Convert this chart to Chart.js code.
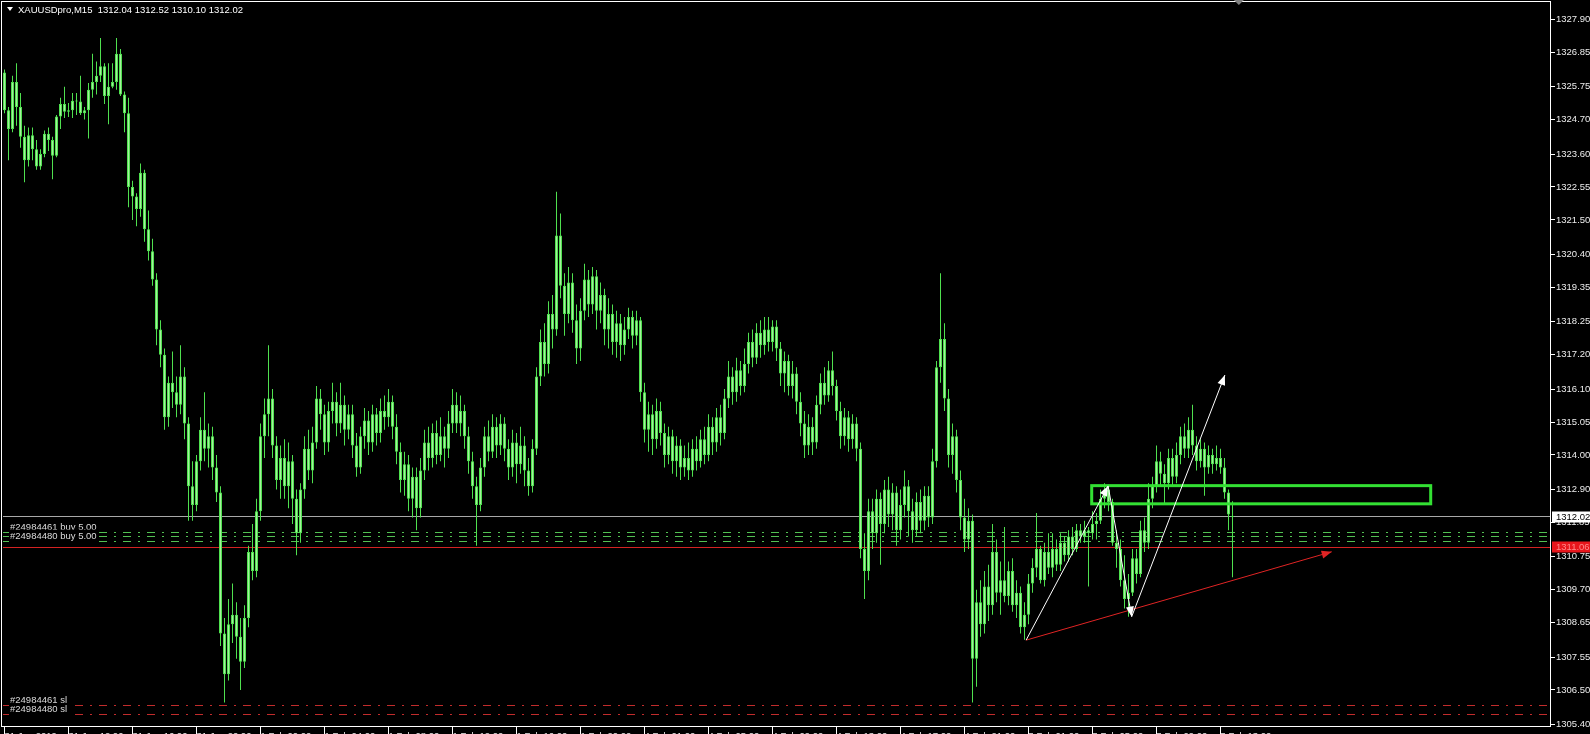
<!DOCTYPE html>
<html>
<head>
<meta charset="utf-8">
<script src="https://cdn.jsdelivr.net/npm/chart.js"></script>
<style>
html,body{margin:0;padding:0;background:#000;overflow:hidden}
canvas{display:block}
</style>
</head>
<body>
<canvas id="c" width="1590" height="734"></canvas>
<script>
// ---------- DATA ----------
const symbol = 'XAUUSDpro';
const timeframe = 'M15';

const open = [
1326.2,1325.0,1324.4,1325.9,1325.1,1324.15,1323.4,1324.2,1323.75,1323.2,
1323.6,1324.25,1324.05,1323.55,1324.8,1325.2,1324.95,1325.0,1325.3,1325.28,
1324.9,1325.0,1325.65,1325.9,1326.1,1326.4,1325.45,1325.75,1325.9,1326.8,
1325.5,1324.9,1322.55,1322.25,1321.85,1323.0,1321.2,1320.5,1319.6,1318.0,
1317.2,1315.2,1316.3,1316.0,1315.6,1316.5,1315.0,1313.0,1312.4,1313.8,
1314.8,1314.2,1314.6,1313.6,1312.8,1308.3,1307.0,1308.6,1308.9,1308.2,
1307.4,1308.8,1310.9,1310.3,1312.2,1314.6,1315.3,1315.8,1314.3,1313.2,
1313.9,1313.0,1313.8,1312.6,1311.5,1312.9,1314.2,1313.5,1314.4,1315.8,
1315.3,1314.4,1315.4,1315.7,1315.0,1315.6,1314.8,1315.3,1314.3,1313.6,
1314.6,1315.1,1314.4,1315.3,1314.7,1315.4,1315.2,1315.7,1314.9,1314.1,
1313.2,1313.7,1312.6,1313.3,1312.3,1313.5,1314.4,1313.9,1314.7,1314.0,
1314.6,1314.2,1315.0,1315.6,1315.0,1315.4,1314.6,1313.8,1313.0,1312.4,
1313.6,1314.6,1314.1,1314.9,1314.3,1315.0,1314.2,1313.6,1314.4,1313.7,
1314.3,1313.5,1313.0,1314.2,1316.5,1317.6,1316.9,1318.5,1318.0,1321.0,
1319.4,1318.5,1319.5,1318.3,1317.4,1318.6,1319.6,1318.8,1319.7,1318.6,
1319.1,1318.0,1318.5,1317.6,1318.2,1317.5,1318.0,1318.4,1317.8,1318.3,
1316.0,1314.8,1315.3,1314.5,1315.4,1314.7,1314.0,1314.6,1313.8,1314.3,
1313.6,1313.9,1313.5,1314.2,1313.8,1314.5,1314.0,1314.9,1314.4,1315.2,
1314.7,1315.8,1316.5,1316.0,1316.7,1316.2,1316.9,1317.6,1317.1,1317.9,
1317.5,1318.0,1317.6,1318.1,1317.4,1316.6,1317.0,1316.2,1316.6,1315.7,
1315.0,1314.3,1314.9,1314.4,1315.6,1316.3,1315.9,1316.7,1316.2,1315.4,
1314.6,1315.2,1314.5,1315.0,1314.2,1311.0,1310.3,1312.2,1311.5,1312.6,
1311.8,1312.9,1312.1,1312.8,1311.6,1312.4,1313.0,1312.2,1311.6,1312.5,
1311.9,1312.7,1312.0,1313.8,1316.8,1317.7,1315.8,1314.0,1314.6,1313.2,
1312.0,1311.3,1311.9,1307.5,1309.3,1308.6,1309.8,1309.2,1310.9,1309.6,
1310.0,1309.5,1310.3,1309.2,1309.6,1308.5,1308.9,1309.9,1310.4,1311.0,
1310.0,1310.9,1310.4,1311.0,1310.5,1311.2,1310.8,1311.4,1311.0,1311.6,
1311.4,1311.6,1311.5,1311.8,1311.9,1312.6,1312.9,1312.5,1311.2,1311.0,
1310.0,1309.4,1309.6,1310.7,1310.2,1311.6,1311.2,1312.6,1313.0,1313.8,
1313.4,1313.1,1313.9,1313.3,1314.0,1314.6,1314.2,1314.8,1314.3,1313.8,
1314.2,1313.6,1314.0,1313.7,1313.9,1313.6,1312.8,1312.04
];
const high = [
1326.3,1325.1,1326.1,1326.5,1325.55,1324.5,1324.45,1324.45,1324.05,1323.75,
1324.35,1324.45,1324.15,1324.85,1325.4,1325.75,1325.23,1325.55,1325.55,1326.1,
1325.1,1325.87,1326.8,1326.55,1327.3,1326.5,1326.5,1326.5,1327.3,1326.95,
1325.6,1325.4,1322.75,1322.35,1323.3,1323.1,1321.8,1320.9,1319.8,1318.3,
1317.4,1316.5,1317.3,1316.5,1317.5,1316.8,1315.2,1313.8,1314.0,1315.2,
1316.0,1315.0,1314.9,1314.0,1313.0,1308.8,1309.4,1309.9,1309.3,1308.8,
1309.2,1311.1,1311.8,1312.6,1315.0,1315.8,1317.5,1316.1,1314.6,1314.3,
1314.5,1314.4,1314.0,1312.9,1313.1,1314.6,1314.8,1314.9,1316.2,1316.1,
1315.6,1315.7,1316.3,1316.0,1316.3,1315.9,1315.6,1315.6,1314.7,1314.9,
1315.5,1315.4,1315.6,1315.5,1315.8,1315.9,1316.1,1315.9,1315.3,1314.4,
1314.1,1314.0,1313.6,1313.6,1313.9,1314.8,1314.9,1315.0,1315.1,1315.2,
1314.9,1315.4,1316.1,1316.0,1315.9,1315.6,1314.9,1314.1,1313.3,1313.9,
1314.9,1315.1,1315.3,1315.2,1315.3,1315.2,1314.5,1314.8,1314.7,1314.9,
1314.6,1313.9,1314.5,1316.8,1318.0,1318.2,1318.9,1319.1,1322.4,1321.7,
1319.8,1320.0,1319.8,1318.8,1319.0,1320.1,1319.9,1320.0,1319.9,1319.5,
1319.3,1319.0,1318.8,1318.6,1318.5,1318.4,1318.7,1318.6,1318.6,1318.4,
1316.3,1315.7,1315.6,1315.8,1315.7,1315.0,1314.9,1314.8,1314.6,1314.5,
1314.3,1314.4,1314.5,1314.6,1314.8,1314.9,1315.3,1315.2,1315.5,1315.6,
1316.1,1317.0,1316.8,1317.1,1317.0,1317.4,1317.9,1318.0,1318.2,1318.3,
1318.4,1318.4,1318.3,1318.3,1317.6,1317.3,1317.2,1317.0,1316.8,1316.0,
1315.4,1315.3,1315.2,1315.9,1316.6,1316.8,1317.0,1317.3,1316.4,1315.7,
1315.5,1315.4,1315.3,1315.2,1314.4,1311.5,1312.6,1312.6,1312.9,1312.8,
1313.2,1313.3,1313.1,1313.0,1312.9,1313.5,1313.2,1312.6,1312.8,1312.9,
1313.0,1313.0,1314.2,1317.0,1319.8,1318.2,1316.1,1315.0,1314.8,1313.5,
1312.6,1312.3,1312.1,1309.7,1310.0,1310.3,1310.5,1311.8,1311.3,1310.6,
1311.7,1310.6,1310.7,1310.0,1309.8,1309.3,1310.2,1310.7,1312.15,1311.1,
1311.2,1311.5,1311.5,1311.3,1311.5,1311.4,1311.6,1311.7,1311.8,1311.8,
1311.9,1311.7,1312.2,1312.15,1312.9,1313.1,1313.05,1312.6,1311.6,1311.3,
1310.8,1310.2,1311.0,1311.0,1311.9,1312.0,1313.1,1313.3,1314.3,1314.1,
1313.7,1314.2,1314.2,1314.4,1314.9,1315.0,1315.2,1315.6,1314.6,1314.5,
1314.4,1314.3,1314.2,1314.3,1314.2,1313.9,1312.9,1312.52
];
const low = [
1324.9,1323.4,1324.3,1324.5,1323.8,1322.7,1323.2,1323.4,1323.1,1323.1,
1323.5,1323.7,1322.8,1323.5,1324.4,1324.75,1324.78,1324.75,1324.85,1324.85,
1324.7,1324.1,1325.4,1325.5,1325.9,1325.2,1324.55,1325.7,1325.65,1325.45,
1324.3,1321.9,1321.5,1321.3,1321.6,1320.8,1320.2,1319.4,1317.5,1316.8,
1314.8,1314.9,1315.5,1315.2,1315.3,1314.5,1311.9,1311.9,1312.2,1313.5,
1313.8,1313.6,1313.2,1312.5,1307.9,1306.1,1306.8,1308.0,1307.5,1306.5,
1307.2,1308.5,1310.0,1310.1,1311.9,1313.9,1314.6,1313.9,1312.9,1312.6,
1312.6,1312.3,1311.8,1310.8,1311.2,1312.6,1313.2,1313.1,1314.2,1314.8,
1314.0,1314.1,1315.0,1314.6,1314.7,1314.3,1314.5,1313.9,1313.3,1313.4,
1314.2,1314.0,1314.1,1314.3,1314.4,1314.8,1314.9,1314.5,1313.7,1312.8,
1312.7,1312.2,1312.0,1311.6,1312.0,1313.2,1313.5,1313.6,1313.7,1313.8,
1313.6,1313.9,1314.7,1314.7,1314.6,1314.2,1313.4,1312.6,1311.1,1312.2,
1313.3,1313.8,1313.9,1313.9,1314.0,1313.8,1313.2,1313.3,1313.1,1313.4,
1313.0,1312.7,1312.8,1314.0,1316.2,1316.5,1316.6,1317.4,1317.8,1319.0,
1317.8,1318.2,1317.9,1316.9,1317.0,1318.3,1318.4,1318.5,1318.0,1318.2,
1317.5,1317.4,1317.2,1317.1,1317.0,1317.2,1317.7,1317.4,1317.5,1315.7,
1314.4,1314.1,1314.0,1314.2,1314.3,1313.6,1313.7,1313.4,1313.3,1313.2,
1313.3,1313.2,1313.3,1313.5,1313.6,1313.7,1313.8,1314.0,1314.1,1314.3,
1314.5,1315.5,1315.6,1315.7,1315.9,1316.0,1316.6,1316.8,1316.9,1317.1,
1317.2,1317.3,1317.3,1317.0,1316.2,1316.0,1315.9,1315.8,1315.3,1314.6,
1313.9,1314.0,1314.0,1314.2,1315.3,1315.6,1315.7,1315.9,1315.1,1314.2,
1314.3,1314.1,1314.2,1313.8,1310.7,1309.4,1310.0,1311.0,1311.2,1310.5,
1311.5,1311.7,1311.6,1311.1,1311.3,1312.0,1311.4,1311.2,1311.4,1311.5,
1311.6,1311.7,1311.8,1313.6,1316.3,1315.4,1313.6,1313.4,1312.8,1311.6,
1310.9,1311.0,1306.1,1306.6,1308.2,1308.3,1308.7,1308.9,1309.3,1308.9,
1309.3,1309.2,1309.0,1308.8,1308.3,1308.1,1308.6,1309.6,1310.1,1309.9,
1309.8,1310.2,1310.1,1310.3,1310.3,1310.6,1310.6,1310.8,1310.9,1311.2,
1311.2,1309.8,1311.3,1311.3,1311.8,1312.3,1312.2,1311.1,1310.4,1309.8,
1309.1,1308.84,1309.5,1309.9,1310.1,1310.9,1311.0,1312.3,1312.8,1313.0,
1312.4,1312.9,1313.0,1313.1,1313.7,1313.9,1313.9,1314.0,1313.5,1313.6,
1312.7,1313.4,1313.4,1313.5,1313.4,1312.6,1311.6,1310.10
];
const close = [
1325.0,1324.4,1325.9,1325.1,1324.15,1323.4,1324.2,1323.75,1323.2,1323.6,
1324.25,1324.05,1323.55,1324.8,1325.2,1324.95,1325.0,1325.3,1325.28,1324.9,
1325.0,1325.65,1325.9,1326.1,1326.4,1325.45,1325.75,1325.9,1326.8,1325.5,
1324.9,1322.55,1322.25,1321.85,1323.0,1321.2,1320.5,1319.6,1318.0,1317.2,
1315.2,1316.3,1316.0,1315.6,1316.5,1315.0,1313.0,1312.4,1313.8,1314.8,
1314.2,1314.6,1313.6,1312.8,1308.3,1307.0,1308.6,1308.9,1308.2,1307.4,
1308.8,1310.9,1310.3,1312.2,1314.6,1315.3,1315.8,1314.3,1313.2,1313.9,
1313.0,1313.8,1312.6,1311.5,1312.9,1314.2,1313.5,1314.4,1315.8,1315.3,
1314.4,1315.4,1315.7,1315.0,1315.6,1314.8,1315.3,1314.3,1313.6,1314.6,
1315.1,1314.4,1315.3,1314.7,1315.4,1315.2,1315.7,1314.9,1314.1,1313.2,
1313.7,1312.6,1313.3,1312.3,1313.5,1314.4,1313.9,1314.7,1314.0,1314.6,
1314.2,1315.0,1315.6,1315.0,1315.4,1314.6,1313.8,1313.0,1312.4,1313.6,
1314.6,1314.1,1314.9,1314.3,1315.0,1314.2,1313.6,1314.4,1313.7,1314.3,
1313.5,1313.0,1314.2,1316.5,1317.6,1316.9,1318.5,1318.0,1321.0,1319.4,
1318.5,1319.5,1318.3,1317.4,1318.6,1319.6,1318.8,1319.7,1318.6,1319.1,
1318.0,1318.5,1317.6,1318.2,1317.5,1318.0,1318.4,1317.8,1318.3,1316.0,
1314.8,1315.3,1314.5,1315.4,1314.7,1314.0,1314.6,1313.8,1314.3,1313.6,
1313.9,1313.5,1314.2,1313.8,1314.5,1314.0,1314.9,1314.4,1315.2,1314.7,
1315.8,1316.5,1316.0,1316.7,1316.2,1316.9,1317.6,1317.1,1317.9,1317.5,
1318.0,1317.6,1318.1,1317.4,1316.6,1317.0,1316.2,1316.6,1315.7,1315.0,
1314.3,1314.9,1314.4,1315.6,1316.3,1315.9,1316.7,1316.2,1315.4,1314.6,
1315.2,1314.5,1315.0,1314.2,1311.0,1310.3,1312.2,1311.5,1312.6,1311.8,
1312.9,1312.1,1312.8,1311.6,1312.4,1313.0,1312.2,1311.6,1312.5,1311.9,
1312.7,1312.0,1313.8,1316.8,1317.7,1315.8,1314.0,1314.6,1313.2,1312.0,
1311.3,1311.9,1307.5,1309.3,1308.6,1309.8,1309.2,1310.9,1309.6,1310.0,
1309.5,1310.3,1309.2,1309.6,1308.5,1308.9,1309.9,1310.4,1311.0,1310.0,
1310.9,1310.4,1311.0,1310.5,1311.2,1310.8,1311.4,1311.0,1311.6,1311.4,
1311.6,1311.5,1311.8,1311.9,1312.6,1312.9,1312.5,1311.2,1311.0,1310.0,
1309.4,1309.6,1310.7,1310.2,1311.6,1311.2,1312.6,1313.0,1313.8,1313.4,
1313.1,1313.9,1313.3,1314.0,1314.6,1314.2,1314.8,1314.3,1313.8,1314.2,
1313.6,1314.0,1313.7,1313.9,1313.6,1312.8,1312.1,1312.02
];

const priceTicks = [1327.90,1326.85,1325.75,1324.70,1323.60,1322.55,1321.50,1320.40,1319.35,1318.25,1317.20,
  1316.10,1315.05,1314.00,1312.90,1311.85,1310.75,1309.70,1308.65,1307.55,1306.50,1305.40];
const timeTickBars = [0,16,32,48,64,80,96,112,128,144,160,176,192,208,224,240,256,272,288,304];
const timeLabels = ['31 Jan 2019','31 Jan 12:00','31 Jan 16:00','31 Jan 20:00','1 Feb 00:00','1 Feb 04:00',
  '1 Feb 08:00','1 Feb 12:00','1 Feb 16:00','1 Feb 20:00','4 Feb 01:00','4 Feb 05:00','4 Feb 09:00',
  '4 Feb 13:00','4 Feb 17:00','4 Feb 21:00','5 Feb 01:00','5 Feb 05:00','5 Feb 09:00','5 Feb 13:00'];

const markedLevel = 1311.06;                           // red solid line + red price tag
const orderOpenPrices = [1311.53, 1311.39, 1311.25];   // green dash-dot lines
const orderLabels = ['#24984461 buy 5.00', '#24984480 buy 5.00'];
const orderLabelPrices = [1311.53, 1311.25];
const stopLossPrices = [1306.02, 1305.72];             // red dash-dot lines
const stopLossLabels = ['#24984461 sl', '#24984480 sl'];

const zoneBars = [271.8, 356.55];                      // green rectangle
const zonePrices = [1313.02, 1312.44];
const whiteArrowBars = [255.4, 275.9, 281.8, 305.1];   // white zig-zag arrows
const whiteArrowPrices = [1308.09, 1313.01, 1308.84, 1316.55];
const redArrowBars = [255.4, 331.8];                   // red trend arrow
const redArrowPrices = [1308.09, 1310.91];
const shiftMarkerBar = 308.6;

// ---------- BUILD ----------
const n = open.length;
const last = n - 1;
const bidPrice = close[last];
const wickData = [], bodyData = [];
for (let i = 0; i < n; i++) {
  wickData.push({x: i, y: [low[i], high[i]]});
  bodyData.push({x: i, y: [Math.min(open[i], close[i]), Math.max(open[i], close[i])]});
}

const FONT = 'Liberation Sans, Arial, sans-serif';
const FONT_SIZE = 9.5;
const GREEN = '#4fe04f';
const TEXT = '#ececec';

function crisp(v) { return Math.floor(v) + 0.5; }
function arrowHead(ctx, x1, y1, x2, y2, len, half) {
  const a = Math.atan2(y2 - y1, x2 - x1);
  const c = Math.cos(a), s = Math.sin(a);
  ctx.beginPath();
  ctx.moveTo(x2, y2);
  ctx.lineTo(x2 - len * c + half * s, y2 - len * s - half * c);
  ctx.lineTo(x2 - len * c - half * s, y2 - len * s + half * c);
  ctx.closePath();
  ctx.fill();
}

const mtPlugin = {
  id: 'mt4',
  beforeDraw(chart) {
    const ctx = chart.ctx;
    ctx.save();
    ctx.fillStyle = '#000';
    ctx.fillRect(0, 0, chart.width, chart.height);
    ctx.restore();
  },
  beforeDatasetsDraw(chart) {
    const {ctx, chartArea: ca, scales: {y}} = chart;
    ctx.save();
    ctx.beginPath(); ctx.rect(ca.left, ca.top, ca.width, ca.height); ctx.clip();
    const hline = (p, color, dash) => {
      const yy = crisp(y.getPixelForValue(p));
      ctx.strokeStyle = color; ctx.lineWidth = 1; ctx.setLineDash(dash);
      ctx.beginPath(); ctx.moveTo(ca.left + 2, yy); ctx.lineTo(ca.right, yy); ctx.stroke();
    };
    hline(bidPrice, '#a8a8a8', []);
    hline(markedLevel, '#d42222', []);
    orderOpenPrices.forEach(p => hline(p, '#52c052', [8, 7, 2, 7]));
    stopLossPrices.forEach(p => hline(p, '#c22c2c', [8, 7, 2, 7]));
    ctx.restore();
  },
  afterDatasetsDraw(chart) {
    const {ctx, chartArea: ca, scales: {x, y}} = chart;
    ctx.save();
    ctx.beginPath(); ctx.rect(ca.left, ca.top, ca.width, ca.height); ctx.clip();
    const zx1 = x.getPixelForValue(zoneBars[0]), zx2 = x.getPixelForValue(zoneBars[1]);
    const zy1 = y.getPixelForValue(zonePrices[0]), zy2 = y.getPixelForValue(zonePrices[1]);
    ctx.strokeStyle = '#33e033'; ctx.lineWidth = 3;
    ctx.strokeRect(zx1, zy1, zx2 - zx1, zy2 - zy1);
    const rx1 = x.getPixelForValue(redArrowBars[0]), ry1 = y.getPixelForValue(redArrowPrices[0]);
    const rx2 = x.getPixelForValue(redArrowBars[1]), ry2 = y.getPixelForValue(redArrowPrices[1]);
    ctx.strokeStyle = '#e02424'; ctx.fillStyle = '#e02424'; ctx.lineWidth = 1;
    ctx.beginPath(); ctx.moveTo(rx1, ry1); ctx.lineTo(rx2, ry2); ctx.stroke();
    arrowHead(ctx, rx1, ry1, rx2, ry2, 10, 4);
    ctx.strokeStyle = '#ffffff'; ctx.fillStyle = '#ffffff';
    for (let k = 0; k < whiteArrowBars.length - 1; k++) {
      const ax1 = x.getPixelForValue(whiteArrowBars[k]), ay1 = y.getPixelForValue(whiteArrowPrices[k]);
      const ax2 = x.getPixelForValue(whiteArrowBars[k + 1]), ay2 = y.getPixelForValue(whiteArrowPrices[k + 1]);
      ctx.beginPath(); ctx.moveTo(ax1, ay1); ctx.lineTo(ax2, ay2); ctx.stroke();
      arrowHead(ctx, ax1, ay1, ax2, ay2, 10, 4);
    }
    ctx.restore();
  },
  afterDraw(chart) {
    const {ctx, chartArea: ca, scales: {x, y}} = chart;
    ctx.save();
    ctx.font = FONT_SIZE + 'px ' + FONT;
    ctx.textBaseline = 'alphabetic';
    const label = (txt, p) => {
      const base = y.getPixelForValue(p) - 2.5;
      const w = ctx.measureText(txt).width;
      ctx.fillStyle = '#000';
      ctx.fillRect(9, base - 9, w + 2, 13);
      ctx.fillStyle = '#dcdcdc';
      ctx.fillText(txt, 10, base);
    };
    orderLabels.forEach((t, i) => label(t, orderLabelPrices[i]));
    stopLossLabels.forEach((t, i) => label(t, stopLossPrices[i]));
    ctx.strokeStyle = '#ffffff'; ctx.lineWidth = 1; ctx.setLineDash([]);
    ctx.strokeRect(ca.left + 0.5, ca.top + 0.5, ca.width - 1, ca.height - 1);
    ctx.fillStyle = '#ffffff';
    ctx.beginPath(); ctx.moveTo(7, 7); ctx.lineTo(13, 7); ctx.lineTo(10, 11); ctx.closePath(); ctx.fill();
    const title = symbol + ',' + timeframe + '  ' + [open[last], high[last], low[last], close[last]].map(v => v.toFixed(2)).join(' ');
    ctx.fillText(title, 18, 13);
    const sx = x.getPixelForValue(shiftMarkerBar);
    ctx.fillStyle = '#808080';
    ctx.beginPath(); ctx.moveTo(sx - 5, 0); ctx.lineTo(sx + 5, 0); ctx.lineTo(sx, 5); ctx.closePath(); ctx.fill();
    const tag = (p, bg, fg) => {
      const yy = y.getPixelForValue(p);
      ctx.fillStyle = bg;
      ctx.fillRect(ca.right + 1, Math.round(yy) - 5.5, chart.width - ca.right - 1, 11);
      ctx.fillStyle = fg; ctx.textBaseline = 'middle';
      ctx.fillText(p.toFixed(2), ca.right + 5, yy);
    };
    tag(bidPrice, '#ffffff', '#000000');
    tag(markedLevel, '#e8161c', '#ff8a8a');
    ctx.restore();
  }
};

new Chart(document.getElementById('c'), {
  type: 'bar',
  data: {
    datasets: [
      { label: 'wick', data: wickData, barThickness: 1, backgroundColor: GREEN, borderWidth: 0,
        grouped: false, order: 2, inflateAmount: 0 },
      { label: 'body', data: bodyData, barThickness: 3, backgroundColor: '#a6ef9e', borderColor: GREEN,
        borderWidth: 1, borderSkipped: false, grouped: false, minBarLength: 1, order: 1, inflateAmount: 0 }
    ]
  },
  options: {
    responsive: false,
    animation: false,
    devicePixelRatio: 1,
    layout: { padding: { left: 1, top: 1, right: 0, bottom: 0 } },
    plugins: { legend: { display: false }, tooltip: { enabled: false } },
    scales: {
      x: {
        type: 'linear', position: 'bottom', min: -0.875, max: 386.625, offset: false,
        grid: { display: true, drawOnChartArea: false, drawTicks: true, tickLength: 7, color: '#ffffff', offset: false },
        border: { display: false },
        ticks: { color: TEXT, font: { family: FONT, size: FONT_SIZE }, padding: -3, align: 'start',
                 maxRotation: 0, minRotation: 0, autoSkip: false, callback: (v, i) => timeLabels[i] },
        afterBuildTicks: s => { s.ticks = timeTickBars.map(v => ({ value: v })); },
        afterFit: s => { s.height = 7; s.paddingLeft = 0; s.paddingRight = 0; }
      },
      y: {
        type: 'linear', position: 'right', min: 1305.319, max: 1328.484,
        grid: { display: true, drawOnChartArea: false, drawTicks: true, tickLength: 4, color: '#ffffff' },
        border: { display: false },
        ticks: { color: TEXT, font: { family: FONT, size: FONT_SIZE }, padding: 1, autoSkip: false,
                 callback: v => Number(v).toFixed(2) },
        afterBuildTicks: s => { s.ticks = priceTicks.map(v => ({ value: v })); },
        afterFit: s => { s.width = 39; s.paddingTop = 0; s.paddingBottom = 0; }
      }
    }
  },
  plugins: [mtPlugin]
});
</script>
</body>
</html>
